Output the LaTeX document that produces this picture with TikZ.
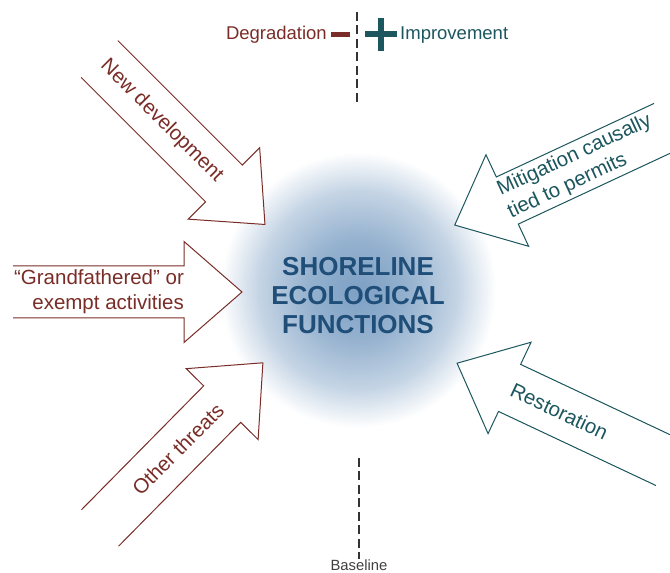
\documentclass[tikz,border=0pt]{standalone}
\usepackage{fontspec}
\setmainfont{Liberation Sans}
\usetikzlibrary{calc}
\definecolor{ecobrown}{RGB}{122,  45,  40}
\definecolor{ecoteal}{RGB}{  28,  86,  94}
\definecolor{ecoblue}{RGB}{  31,  78, 121}
\definecolor{blobblue}{RGB}{125, 160, 196}
\pgfdeclareradialshading{blob}{\pgfpoint{0bp}{0bp}}{color(0bp)=(blobblue); color(9bp)=(blobblue!82!white); color(18bp)=(blobblue!45!white); color(25bp)=(white); color(50bp)=(white)}
\tikzset{
	arrowtext/.style={font=\fontsize{20.5}{25}\selectfont},
	toptext/.style={font=\fontsize{18.5}{22}\selectfont}
}

\begin{document}
\begin{tikzpicture}[x=1pt, y=1pt, inner sep=0pt]
	\useasboundingbox (0, 0) rectangle (670, 573);

	% blob
	\shade[shading=blob] (358, 283) circle (138);

	% baseline
	\coordinate (up1) at (357, 561);
	\coordinate (up2) at (357, 468);
	\coordinate (down1) at (359, 115);
	\coordinate (down2) at (359, 14);
	\draw[black!80, line width=2pt, dash pattern=on 9pt off 4.5pt] (up1) -- (up2);
	\draw[black!80, line width=2pt, dash pattern=on 9pt off 4.5pt] (down1) -- (down2);
	\node[anchor=base, font=\fontsize{14.8}{17}\selectfont, text=black!75] (base) at (359, 2.5) {Baseline};

	% arrows
	\foreach \id/\x/\y/\ang/\len/\col/\pos in {
		dev/99.5/514/-45/234/ecobrown/88,
		grand/13/281/0/229/ecobrown/86,
		other/100/45/45.4/232/ecobrown/111,
		mitig/665/446/205/232/ecoteal/94,
		resto/667/111/154.8/232/ecoteal/119
	}{
		\begin{scope}[shift={(\x, \y)}, rotate=\ang]
			\filldraw[draw=\col, fill=white, line width=1pt, line join=miter]
				(0, 26) -- (\len-58, 26) -- (\len-58, 50.5) -- (\len, 0)
				-- (\len-58, -50.5) -- (\len-58, -26) -- (0, -26);
			\coordinate (\id) at (\pos, 0);
		\end{scope}
	}

	\node[arrowtext, text=ecobrown, rotate=-45] (devtext) at (dev) {New development};
	\node[arrowtext, text=ecobrown, align=right] (grandtext) at (grand) {“Grandfathered” or\\exempt activities};
	\node[arrowtext, text=ecobrown, rotate=45] (othertext) at (other) {Other threats};
	\node[arrowtext, text=ecoteal, rotate=25, align=left] (mitigtext) at (mitig) {Mitigation causally\\tied to permits};
	\node[arrowtext, text=ecoteal, rotate=-25.2] (restotext) at (resto) {Restoration};

	% centre
	\node[font=\bfseries\fontsize{26}{29}\selectfont, text=ecoblue, align=center] (sef) at (358, 277) {SHORELINE\\ECOLOGICAL\\FUNCTIONS};

	% degradation / improvement
	\node[toptext, anchor=east, text=ecobrown] (degr) at (327, 538) {Degradation};
	\node[toptext, anchor=west, text=ecoteal] (impr) at (400, 538) {Improvement};
	\draw[ecobrown, line width=5pt] ($(degr.east)+(4, 0.5)$) -- ++(19, 0);
	\draw[ecoteal, line width=6pt] ($(impr.west)+(-35, 0.5)$) -- ++(32, 0);
	\draw[ecoteal, line width=6pt] ($(impr.west)+(-19, 17)$) -- ++(0, -33);
\end{tikzpicture}
\end{document}
